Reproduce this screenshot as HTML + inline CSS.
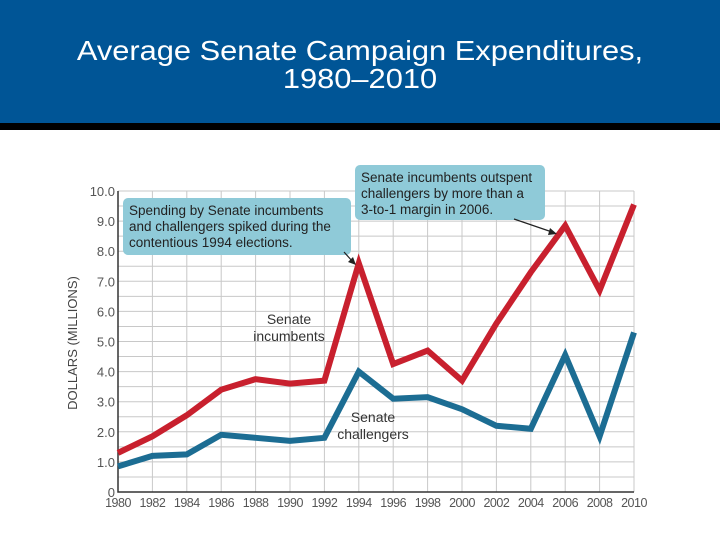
<!DOCTYPE html>
<html><head><meta charset="utf-8"><style>
body{margin:0;width:720px;height:540px;overflow:hidden;background:#fff;font-family:"Liberation Sans",Arial,sans-serif}
#hdr{position:absolute;left:0;top:0;width:720px;height:123px;background:#005596}
#bar{position:absolute;left:0;top:123px;width:720px;height:7px;background:#000}
#title{position:absolute;left:0;top:37px;width:720px;text-align:center;color:#fff;font-size:28px;line-height:28px;transform:scaleX(1.1);transform-origin:360px 0}
svg{position:absolute;left:0;top:0}
</style></head><body>
<div id="hdr"></div>
<div id="bar"></div>
<div id="title">Average Senate Campaign Expenditures,<br>1980–2010</div>
<svg id="chart" width="720" height="540"></svg>
<script>
const years=[1980,1982,1984,1986,1988,1990,1992,1994,1996,1998,2000,2002,2004,2006,2008,2010];
const incumbents=[1.3,1.85,2.55,3.4,3.75,3.6,3.7,7.6,4.25,4.7,3.7,5.6,7.3,8.85,6.7,9.55];
const challengers=[0.85,1.2,1.25,1.9,1.8,1.7,1.8,4.0,3.1,3.15,2.75,2.2,2.1,4.55,1.85,5.3];
const yTicks=[0,1,2,3,4,5,6,7,8,9,10];
const yTickLabels=["0","1.0","2.0","3.0","4.0","5.0","6.0","7.0","8.0","9.0","10.0"];
const NS="http://www.w3.org/2000/svg";
const svg=document.getElementById('chart');
const x0=118,x1=634,y0=492,y1=191;
const xs=v=>x0+(v-1980)/30*(x1-x0);
const ys=v=>y0-v/10*(y0-y1);
function mk(t,a,p){const e=document.createElementNS(NS,t);for(const k in a)e.setAttribute(k,a[k]);(p||svg).appendChild(e);return e;}
const g=mk('g',{});


for(let v=0.5;v<=10;v+=0.5){mk('line',{x1:x0,x2:x1,y1:ys(v),y2:ys(v),stroke:'#c8c8c8','stroke-width':1},g);}
years.forEach(y=>{if(y>1980)mk('line',{x1:xs(y),x2:xs(y),y1:y1,y2:y0,stroke:'#c8c8c8','stroke-width':1},g);});
const ax=mk('path',{d:`M${x0} ${y1}V${y0}H${x1}`,stroke:'#333',fill:'none','stroke-width':1.5});


yTicks.forEach((v,i)=>{const t=mk('text',{x:x0-3,y:ys(v)+5,'text-anchor':'end','font-size':13,fill:'#555'});t.textContent=yTickLabels[i];

});
years.forEach(y=>{const t=mk('text',{x:xs(y),y:507,'text-anchor':'middle','font-size':12.5,fill:'#555','letter-spacing':'-0.5'});t.textContent=y;

});
const yt=mk('text',{transform:'translate(77 343) rotate(-90)','text-anchor':'middle','font-size':13,fill:'#444'});yt.textContent='DOLLARS (MILLIONS)';


function line(data,color,name){const p=mk('polyline',{points:data.map((v,i)=>xs(years[i])+','+ys(v)).join(' '),fill:'none',stroke:color,'stroke-width':6,'stroke-linejoin':'miter'});

}
line(challengers,'#1c6d93','line-challengers');
line(incumbents,'#c8202e','line-incumbents');
function lbl(lines,x,y,name){const t=mk('text',{x:x,y:y,'text-anchor':'middle','font-size':14,fill:'#333'});


lines.forEach((s,i)=>{const ts=mk('tspan',{x:x,dy:i?17:0},t);ts.textContent=s;});}
lbl(['Senate','incumbents'],289,324,'label-incumbents');
lbl(['Senate','challengers'],373,422,'label-challengers');
function box(x,y,w,h,lines,name){const r=mk('rect',{x:x,y:y,width:w,height:h,rx:5,fill:'#8fcad8'});


const t=mk('text',{'font-size':13.5,fill:'#222'});


lines.forEach((s,i)=>{const ts=mk('tspan',{x:x+6,y:y+17+i*16},t);ts.textContent=s;});}
box(123,198,228,57,['Spending by Senate incumbents','and challengers spiked during the','contentious 1994 elections.'],'callout-1994');
box(355,165,190,55,['Senate incumbents outspent','challengers by more than a','3-to-1 margin in 2006.'],'callout-2006');
mk('line',{x1:344,y1:252,x2:353,y2:262,stroke:'#222','stroke-width':1.2});
mk('path',{d:'M356 265 L348 262 L353 257Z',fill:'#222'});
mk('line',{x1:514,y1:219,x2:552,y2:232,stroke:'#222','stroke-width':1.2});
mk('path',{d:'M557 234 L548 235 L550 228Z',fill:'#222'});
</script>
</body></html>
